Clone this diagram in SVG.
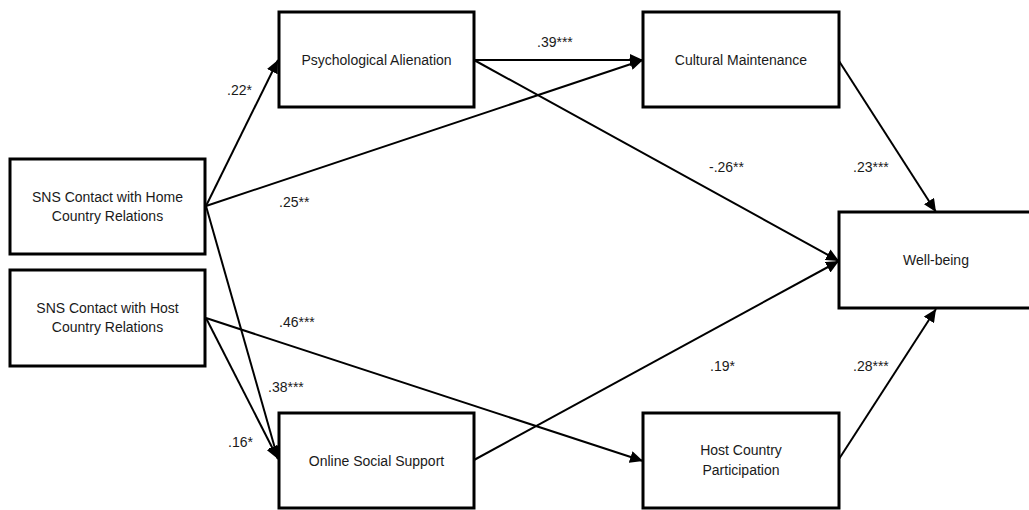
<svg xmlns="http://www.w3.org/2000/svg" width="1029" height="510" viewBox="0 0 1029 510">
<style>
.box{fill:#fff;stroke:#000;stroke-width:3}
.lbl{font-family:"Liberation Sans",Arial,sans-serif;font-size:14px;fill:#1a1a1a;text-anchor:middle}
.coef{font-family:"Liberation Sans",Arial,sans-serif;font-size:14px;fill:#1a1a1a}
.edge{stroke:#000;stroke-width:2;fill:none;marker-end:url(#arr)}
</style>
<defs>
<marker id="arr" markerUnits="userSpaceOnUse" markerWidth="14" markerHeight="12" refX="13" refY="6" orient="auto">
<path d="M0,0 L13,6 L0,12 Z" fill="#000"/>
</marker>
</defs>
<rect width="1029" height="510" fill="#fff"/>
<g id="connectors">
<path class="edge" d="M206,206 L278,60"/>
<path class="edge" d="M206,206 L643,60"/>
<path class="edge" d="M206,206 L278,459"/>
<path class="edge" d="M206,318 L278,459"/>
<path class="edge" d="M206,318 L643,461"/>
<path class="edge" d="M474,60 L643,60"/>
<path class="edge" d="M474,60 L839,261"/>
<path class="edge" d="M839,61 L936,212"/>
<path class="edge" d="M474,460 L839,261"/>
<path class="edge" d="M839,459 L936,309"/>
</g>
<g id="n-pa"><rect class="box" x="279" y="12" width="195" height="95"/><text class="lbl" x="376.5" y="65">Psychological Alienation</text></g>
<g id="n-cm"><rect class="box" x="643" y="12" width="196" height="95"/><text class="lbl" x="741" y="65">Cultural Maintenance</text></g>
<g id="n-home"><rect class="box" x="10" y="159" width="195" height="95"/><text class="lbl" x="107.5" y="202">SNS Contact with Home</text><text class="lbl" x="107.5" y="221">Country Relations</text></g>
<g id="n-host"><rect class="box" x="10" y="270" width="195" height="96"/><text class="lbl" x="107.5" y="313">SNS Contact with Host</text><text class="lbl" x="107.5" y="332">Country Relations</text></g>
<g id="n-wb"><rect class="box" x="839" y="212" width="200" height="96"/><text class="lbl" x="936" y="265">Well-being</text></g>
<g id="n-oss"><rect class="box" x="279" y="413" width="195" height="95"/><text class="lbl" x="376.5" y="466">Online Social Support</text></g>
<g id="n-hcp"><rect class="box" x="643" y="413" width="196" height="95"/><text class="lbl" x="741" y="455">Host Country</text><text class="lbl" x="741" y="475">Participation</text></g>
<g id="coefs">
<text class="coef" x="227" y="95">.22*</text>
<text class="coef" x="279" y="207">.25**</text>
<text class="coef" x="279" y="327">.46***</text>
<text class="coef" x="268" y="392">.38***</text>
<text class="coef" x="228" y="447">.16*</text>
<text class="coef" x="537" y="47">.39***</text>
<text class="coef" x="709" y="172">-.26**</text>
<text class="coef" x="853" y="172">.23***</text>
<text class="coef" x="710" y="371">.19*</text>
<text class="coef" x="853" y="371">.28***</text>
</g>
</svg>
